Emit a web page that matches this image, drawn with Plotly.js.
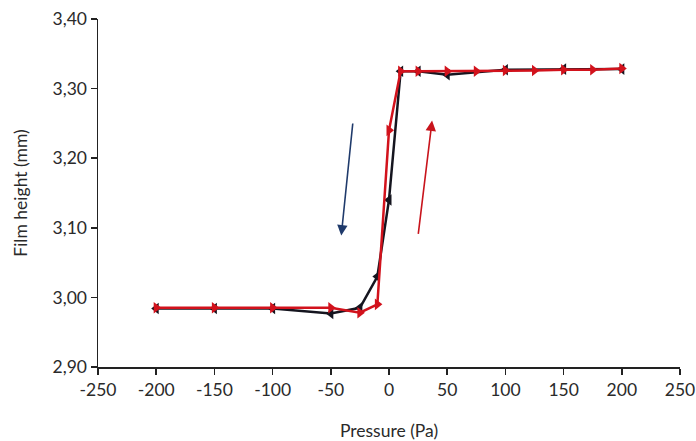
<!DOCTYPE html>
<html>
<head>
<meta charset="utf-8">
<script src="https://cdn.plot.ly/plotly-3.0.1.min.js"></script>
<style>html,body{margin:0;padding:0;background:#fff;}#chart{width:696px;height:441px;}</style>
</head>
<body>
<div id="chart"></div>
<script>
// Decreasing pressure (black, left-pointing markers)
const downPressure = [200, 150, 100, 50, 25, 10, 0, -10, -25, -50, -100, -150, -200];
const downHeight   = [3.328, 3.328, 3.327, 3.320, 3.325, 3.325, 3.140, 3.030, 2.985, 2.977, 2.984, 2.984, 2.984];
// Increasing pressure (red, right-pointing markers)
const upPressure = [-200, -150, -100, -50, -25, -10, 0, 10, 25, 50, 75, 100, 125, 150, 175, 200];
const upHeight   = [2.985, 2.985, 2.985, 2.985, 2.978, 2.990, 3.240, 3.325, 3.325, 3.325, 3.325, 3.326, 3.326, 3.327, 3.327, 3.329];
const xTicks = [-250, -200, -150, -100, -50, 0, 50, 100, 150, 200, 250];
const xTickLabels = ['-250', '-200', '-150', '-100', '-50', '0', '50', '100', '150', '200', '250'];
const yTicks = [2.9, 3.0, 3.1, 3.2, 3.3, 3.4];
const yTickLabels = ['2,90', '3,00', '3,10', '3,20', '3,30', '3,40'];
// Direction arrows [tailX, tailY, headX, headY]
const arrowDown = [-31, 3.252, -41, 3.089];
const arrowUp = [25, 3.089, 37, 3.254];

const font = {family: 'Lato, "Open Sans", sans-serif', size: 17.5, color: '#2a2a2a'};

const traces = [
  {x: downPressure, y: downHeight, mode: 'lines+markers', type: 'scatter',
   line: {color: '#15151f', width: 2.5},
   marker: {symbol: 'triangle-left', size: 10, color: '#15151f'}},
  {x: upPressure, y: upHeight, mode: 'lines+markers', type: 'scatter',
   line: {color: '#d2121c', width: 2.5},
   marker: {symbol: 'triangle-right', size: 10, color: '#d2121c'}}
];

const layout = {
  width: 696, height: 441,
  margin: {l: 98, r: 16, t: 19, b: 74},
  paper_bgcolor: '#fff', plot_bgcolor: '#fff',
  showlegend: false,
  font: font,
  xaxis: {range: [-250, 250], tickvals: xTicks, ticktext: xTickLabels, ticks: 'outside', ticklen: 6, tickwidth: 1.5,
    tickcolor: '#222', showline: true, linecolor: '#222', linewidth: 1.5, showgrid: false, zeroline: false,
    tickfont: font, title: {text: 'Pressure (Pa)', font: font, standoff: 27}},
  yaxis: {range: [2.9, 3.4], tickvals: yTicks, ticktext: yTickLabels, ticks: 'outside', ticklen: 6, tickwidth: 1.5,
    tickcolor: '#222', showline: true, linecolor: '#222', linewidth: 1.5, showgrid: false, zeroline: false,
    tickfont: font, title: {text: 'Film height (mm)', font: font, standoff: 20}},
  annotations: [
    {x: arrowDown[2], y: arrowDown[3], ax: arrowDown[0], ay: arrowDown[1], xref: 'x', yref: 'y', axref: 'x', ayref: 'y',
     showarrow: true, arrowhead: 2, arrowsize: 1.3, arrowwidth: 1.6, arrowcolor: '#1f3a6b', text: ''},
    {x: arrowUp[2], y: arrowUp[3], ax: arrowUp[0], ay: arrowUp[1], xref: 'x', yref: 'y', axref: 'x', ayref: 'y',
     showarrow: true, arrowhead: 2, arrowsize: 1.3, arrowwidth: 1.6, arrowcolor: '#c8141c', text: ''}
  ]
};

Plotly.newPlot('chart', traces, layout, {displayModeBar: false, staticPlot: true});
</script>
</body>
</html>
